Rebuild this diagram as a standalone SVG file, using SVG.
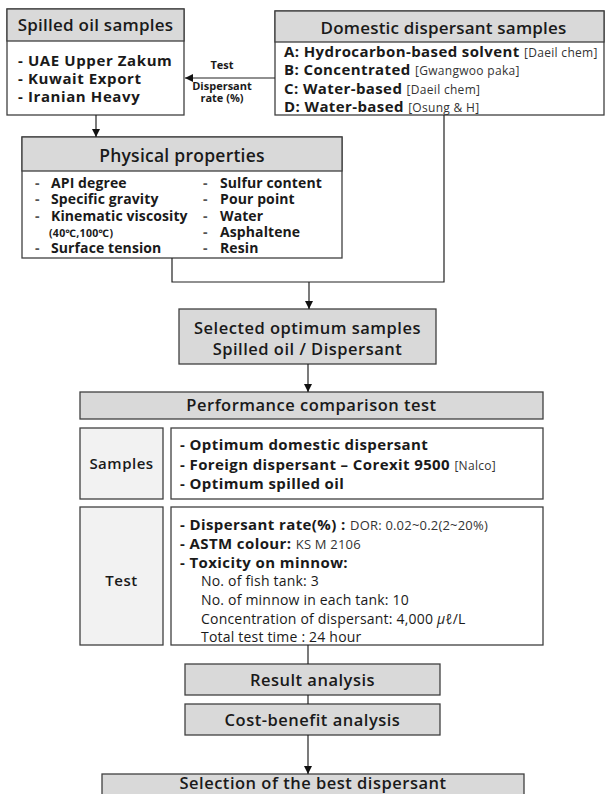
<svg xmlns="http://www.w3.org/2000/svg" width="606" height="794" viewBox="0 0 606 794">
<defs>
<marker id="ah" viewBox="0 0 10 10" refX="10" refY="5" markerWidth="8" markerHeight="8" markerUnits="userSpaceOnUse" orient="auto">
<path d="M0,0 L10,5 L0,10 z" fill="#111"/>
</marker>
<style>
text{font-family:"Open Sans","Noto Sans","DejaVu Sans",sans-serif;fill:#1a1a1a}
.box{fill:#fff;stroke:#404040;stroke-width:1.3}
.hdr{fill:#d9d9d9;stroke:#404040;stroke-width:1.3}
.lbl{fill:#f2f2f2;stroke:#404040;stroke-width:1.3}
.ttl{font-size:17px;font-weight:600;text-anchor:middle;letter-spacing:0.25px}
.b15{font-size:15px;font-weight:700;letter-spacing:0.4px}
.b14{font-size:14px;font-weight:700;letter-spacing:0.1px}
.sm{font-size:12px;font-weight:400;fill:#333;letter-spacing:0.3px}
.sm13{font-size:13px;font-weight:400;fill:#333;letter-spacing:0.2px}
.r14{font-size:14px;font-weight:400;letter-spacing:0.2px}
.m{font-size:16.5px;font-weight:600;text-anchor:middle;letter-spacing:0.5px}
.rl{font-size:15px;font-weight:600;text-anchor:middle;letter-spacing:0.5px}
.cl{font-size:11px;font-weight:700;text-anchor:middle}
.con{fill:none;stroke:#222;stroke-width:1.2}
</style>
</defs>

<g id="spilled-oil">
<rect class="box" x="7" y="9" width="177" height="106"/>
<rect class="hdr" x="7" y="9" width="177" height="32"/>
<text class="ttl" x="95.5" y="31">Spilled oil samples</text>
<text class="b15" x="18" y="66" style="letter-spacing:0.6px">- UAE Upper Zakum</text>
<text class="b15" x="18" y="84" style="letter-spacing:0.6px">- Kuwait Export</text>
<text class="b15" x="18" y="102" style="letter-spacing:0.6px">- Iranian Heavy</text>
</g>

<g id="domestic-dispersant">
<rect class="box" x="275" y="11" width="329" height="104"/>
<rect class="hdr" x="275" y="11" width="329" height="31"/>
<text class="ttl" x="443.5" y="33.5" style="letter-spacing:0.2px">Domestic dispersant samples</text>
<text x="284" y="57"><tspan class="b15">A: Hydrocarbon-based solvent </tspan><tspan class="sm">[Daeil chem]</tspan></text>
<text x="284" y="75"><tspan class="b15">B: Concentrated </tspan><tspan class="sm">[Gwangwoo paka]</tspan></text>
<text x="284" y="94"><tspan class="b15">C: Water-based </tspan><tspan class="sm">[Daeil chem]</tspan></text>
<text x="284" y="112"><tspan class="b15">D: Water-based </tspan><tspan class="sm">[Osung &amp; H]</tspan></text>
</g>

<g id="physical-properties">
<rect class="box" x="22" y="137" width="320" height="121"/>
<rect class="hdr" x="22" y="137" width="320" height="34"/>
<text class="ttl" x="182" y="162" style="font-size:17.5px">Physical properties</text>
<text class="b14" y="188"><tspan x="35" fill="#555">-</tspan><tspan x="51">API degree</tspan><tspan x="203" fill="#555">-</tspan><tspan x="220">Sulfur content</tspan></text>
<text class="b14" y="204"><tspan x="35" fill="#555">-</tspan><tspan x="51">Specific gravity</tspan><tspan x="203" fill="#555">-</tspan><tspan x="220">Pour point</tspan></text>
<text class="b14" y="221"><tspan x="35" fill="#555">-</tspan><tspan x="51">Kinematic viscosity</tspan><tspan x="203" fill="#555">-</tspan><tspan x="220">Water</tspan></text>
<text class="b14" y="237"><tspan x="49" style="font-size:10.5px;letter-spacing:0.3px">(40℃,100℃)</tspan><tspan x="203" fill="#555">-</tspan><tspan x="220">Asphaltene</tspan></text>
<text class="b14" y="253"><tspan x="35" fill="#555">-</tspan><tspan x="51">Surface tension</tspan><tspan x="203" fill="#555">-</tspan><tspan x="220">Resin</tspan></text>
</g>

<g id="selected-samples">
<rect class="hdr" x="179" y="309" width="257" height="55"/>
<text class="m" x="307.5" y="334">Selected optimum samples</text>
<text class="m" x="307.5" y="355">Spilled oil / Dispersant</text>
</g>

<g id="performance-test">
<rect class="hdr" x="80" y="392" width="463" height="27"/>
<text class="m" x="311.5" y="411">Performance comparison test</text>
</g>

<g id="samples-row">
<rect class="lbl" x="80" y="428" width="83" height="71"/>
<text class="rl" x="121.5" y="469">Samples</text>
<rect class="box" x="171" y="428" width="372" height="71"/>
<text class="b15" x="180" y="450">- Optimum domestic dispersant</text>
<text x="180" y="469.5"><tspan class="b15">- Foreign dispersant – Corexit 9500 </tspan><tspan class="sm">[Nalco]</tspan></text>
<text class="b15" x="180" y="489">- Optimum spilled oil</text>
</g>

<g id="test-row">
<rect class="lbl" x="80" y="507" width="83" height="138"/>
<text class="rl" x="121.5" y="586">Test</text>
<rect class="box" x="171" y="507" width="372" height="138"/>
<text x="180" y="530"><tspan class="b15">- Dispersant rate(%) : </tspan><tspan class="sm13">DOR: 0.02~0.2(2~20%)</tspan></text>
<text x="180" y="549"><tspan class="b15">- ASTM colour: </tspan><tspan class="sm13">KS M 2106</tspan></text>
<text class="b15" x="180" y="568">- Toxicity on minnow:</text>
<text class="r14" x="201" y="586">No. of fish tank: 3</text>
<text class="r14" x="201" y="605">No. of minnow in each tank: 10</text>
<text class="r14" x="201" y="624">Concentration of dispersant: 4,000 <tspan font-style="italic">μℓ</tspan>/L</text>
<text class="r14" x="201" y="642">Total test time : 24 hour</text>
</g>

<g id="result-analysis">
<rect class="hdr" x="185" y="664" width="255" height="31"/>
<text class="m" x="312.5" y="685.5">Result analysis</text>
</g>

<g id="cost-benefit">
<rect class="hdr" x="185" y="704" width="255" height="31"/>
<text class="m" x="312.5" y="725.5">Cost-benefit analysis</text>
</g>

<g id="best-dispersant">
<rect class="hdr" x="102" y="774" width="422" height="30"/>
<text class="m" x="313" y="789">Selection of the best dispersant</text>
</g>

<g id="connectors">
<line class="con" x1="275" y1="78" x2="185" y2="78" marker-end="url(#ah)"/>
<text class="cl" x="222" y="69">Test</text>
<text class="cl" x="222" y="90">Dispersant</text>
<text class="cl" x="222" y="102">rate (%)</text>
<line class="con" x1="96" y1="115" x2="96" y2="137" marker-end="url(#ah)"/>
<polyline class="con" points="172,258 172,282 444,282 444,115"/>
<line class="con" x1="309" y1="282" x2="309" y2="309" marker-end="url(#ah)"/>
<line class="con" x1="308" y1="364" x2="308" y2="392" marker-end="url(#ah)"/>
<line class="con" x1="308" y1="645" x2="308" y2="664"/>
<line class="con" x1="308" y1="695" x2="308" y2="704"/>
<line class="con" x1="308" y1="735" x2="308" y2="774" marker-end="url(#ah)"/>
</g>
</svg>
